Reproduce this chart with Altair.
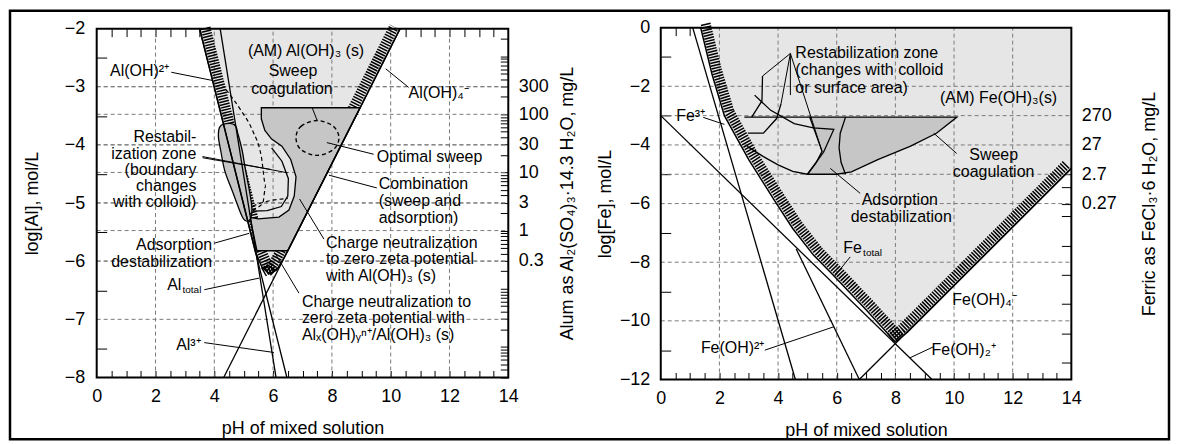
import altair as alt
import pandas as pd
import numpy as np

# ---------------- layout (styling only) ----------------
W, H = 1163, 430
PAD = 2
XL_RANGE = [87, 500]
YL_RANGE = [368, 18]
XR_RANGE = [653, 1065]
YR_RANGE = [370, 17]
FONT = "Liberation Sans"
ANN_FONT = "Liberation Sans Narrow, Liberation Sans"
LIGHT = "#e6e6e6"
MID = "#c6c6c6"
GRID = "#7a7a7a"

# ---------------- axis values ----------------
PH_LABELS = [0, 2, 4, 6, 8, 10, 12, 14]
PH_MINOR = [0.5, 1, 1.5, 2, 2.5, 3, 3.5, 4, 4.5, 5, 5.5, 6, 6.5, 7, 7.5, 8, 8.5, 9, 9.5,
            10, 10.5, 11, 11.5, 12, 12.5, 13, 13.5]
PH_GRID = [2, 4, 6, 8, 10, 12]
AL_LOG_LABELS = [-2, -3, -4, -5, -6, -7, -8]
AL_LOG_MINOR = [-2.5, -3.5, -4.5, -5.5, -6.5, -7.5]
ALUM_MG = [300, 100, 30, 10, 3, 1, 0.3]
ALUM_FACTOR = 297200.0        # mg/L alum per mol/L Al  (594.4 g/mol / 2 Al)
FE_LOG_LABELS = [0, -2, -4, -6, -8, -10, -12]
FE_LOG_MINOR = [-1, -3, -5, -7, -9, -11]
FERRIC_MG = [270, 27, 2.7, 0.27]
FERRIC_FACTOR = 270300.0      # mg/L FeCl3.6H2O per mol/L Fe

# ---------------- aluminium panel (pH, log[Al]) ----------------
AL_OH4 = [(4.32, -8.0), (10.32, -2.0)]
AL_3 = [(4.2, -2.0), (6.1, -8.0)]
AL_OH2 = [(3.5, -2.0), (6.47, -8.0)]
AL_TOTAL_L = [(3.5, -2.0), (4.5, -4.02), (5.4, -5.84), (5.62, -6.1), (5.87, -6.22)]
AL_TOTAL_R = [(5.87, -6.22), (6.12, -6.15), (6.32, -5.99), (6.5, -5.82), (10.32, -2.0)]
AL_RESTAB = [(4.2, -3.68), (4.5, -3.63), (4.72, -3.67), (4.8, -3.8), (4.95, -4.1),
             (5.05, -4.4), (5.2, -4.8), (5.28, -5.1), (5.22, -5.28), (5.05, -5.3),
             (4.92, -5.2), (4.62, -4.8), (4.36, -4.45), (4.22, -4.1), (4.14, -3.85)]
AL_COMB = [(5.6, -3.36), (8.96, -3.36), (6.5, -5.82), (5.45, -5.82), (5.22, -5.25),
           (5.5, -5.27), (6.2, -5.24), (6.54, -5.12), (6.72, -4.88), (6.78, -4.55),
           (6.6, -4.25), (6.3, -4.02), (5.95, -3.9), (5.72, -3.75), (5.6, -3.55)]
AL_C_INNER = [(5.95, -4.05), (6.3, -4.28), (6.52, -4.58), (6.5, -4.88), (6.28, -5.06),
              (5.8, -5.13), (5.3, -5.14)]
AL_DASH_ARC = [(4.4, -3.05), (4.9, -3.4), (5.3, -3.75), (5.6, -4.2), (5.75, -4.7),
               (5.65, -5.0), (5.4, -5.1), (5.2, -5.2)]
AL_DASH_LOW = [(5.3, -5.05), (5.8, -4.97), (6.5, -4.92)]
AL_ELLIPSE = [(6.78, -3.88), (6.95, -3.68), (7.5, -3.58), (8.05, -3.68), (8.24, -3.88),
              (8.05, -4.08), (7.5, -4.18), (6.95, -4.08)]
AL_LEADERS = [
    [(2.54, -2.75), (3.93, -2.89)],
    [(10.61, -3.01), (9.83, -2.69)],
    [(3.6, -4.2), (6.5, -4.48)],
    [(3.6, -4.22), (5.9, -4.42)],
    [(9.42, -4.16), (7.83, -3.96)],
    [(7.33, -3.36), (7.5, -3.58)],
    [(9.53, -4.74), (7.9, -4.52)],
    [(7.73, -5.62), (6.9, -4.93)],
    [(6.88, -6.55), (6.05, -5.85)],
    [(4.0, -5.69), (5.19, -5.52)],
    [(3.66, -6.49), (5.53, -6.29)],
    [(3.66, -7.4), (6.03, -7.57)],
]
AL_TEXT_CENTER = [(7.12, -2.38, "(AM) Al(OH)₃ (s)"), (6.68, -2.72, "Sweep"),
                  (6.64, -3.03, "coagulation"), (1.46, -2.72, "Al(OH)²⁺"),
                  (11.63, -3.1, "Al(OH)₄⁻"), (3.12, -7.44, "Al³⁺")]
AL_TEXT_RIGHT = [(3.39, -3.87, "Restabil-"), (3.39, -4.15, "ization zone"),
                 (3.39, -4.43, "(boundary"), (3.39, -4.71, "changes"),
                 (3.39, -4.99, "with colloid)"), (3.93, -5.72, "Adsorption"),
                 (3.93, -6.01, "destabilization"), (2.88, -6.41, "Al")]
AL_TEXT_LEFT = [(9.53, -4.2, "Optimal sweep"), (9.59, -4.68, "Combination"),
                (9.59, -4.97, "(sweep and"), (9.59, -5.25, "adsorption)"),
                (7.8, -5.69, "Charge neutralization"), (7.8, -5.97, "to zero zeta potential"),
                (7.8, -6.25, "with Al(OH)₃ (s)"), (6.98, -6.7, "Charge neutralization to"),
                (6.98, -6.98, "zero zeta potential with"),
                (6.98, -7.27, "Alₓ(OH)ᵧⁿ⁺/Al(OH)₃ (s)")]
AL_TEXT_SUB = [(2.92, -6.5, "total")]

# ---------------- iron panel (pH, log[Fe]) ----------------
FE_3 = [(1.09, 0.0), (4.59, -12.0)]
FE_OH2 = [(4.62, -7.55), (6.77, -12.0)]
FE_OH2P = [(0.0, -3.0), (9.25, -12.0)]
FE_OH4 = [(6.77, -12.0), (14.0, -4.8)]
FE_TOTAL_L = [(1.36, 0.0), (1.75, -1.6), (2.17, -3.0), (3.0, -4.5), (3.87, -5.88),
              (4.5, -6.85), (5.2, -7.75), (5.91, -8.47), (7.0, -9.62), (7.6, -10.28),
              (8.0, -10.72)]
FE_TOTAL_R = [(8.0, -10.72), (8.4, -10.4), (9.0, -9.8), (14.0, -4.8)]
FE_CORNER = [(14.0, 0.0)]
FE_SWEEP = [(5.08, -3.05), (10.1, -3.05), (9.4, -3.6), (8.5, -4.05), (7.4, -4.5),
            (6.5, -4.92), (6.0, -5.0), (5.0, -5.0), (5.3, -4.6), (5.5, -4.22)]
FE_BOWL = [(2.95, -4.05), (3.5, -4.4), (4.0, -4.68), (4.5, -4.9), (5.0, -5.0)]
FE_TOP = [(2.85, -3.05), (5.08, -3.05)]
FE_UPPER = [(3.2, -2.3), (3.75, -2.82), (4.55, -3.27), (5.2, -3.42), (5.9, -3.47),
            (5.55, -4.25), (5.0, -5.0)]
FE_DIVIDE = [(6.3, -3.05), (6.12, -3.6), (6.08, -4.1), (6.15, -4.6), (6.3, -5.0)]
FE_ZIG1 = [(3.1, -3.05), (3.45, -2.5), (3.47, -1.65)]
FE_ZIG2 = [(2.97, -3.6), (3.5, -3.6), (3.95, -3.1), (4.1, -2.6)]
FE_LEADERS = [
    [(1.45, -3.06), (2.17, -3.3)],
    [(3.55, -11.0), (5.91, -10.2)],
    [(9.31, -10.88), (8.5, -11.26)],
    [(6.46, -7.82), (5.91, -8.5)],
    [(10.09, -4.29), (9.31, -3.6)],
    [(6.8, -5.65), (5.78, -4.8)],
    [(4.42, -0.88), (3.47, -1.65)],
    [(4.42, -0.88), (4.1, -2.6)],
    [(4.42, -0.88), (5.5, -4.22)],
    [(4.42, -0.88), (4.42, -2.3)],
]
FE_TEXT_LEFT = [(4.59, -0.85, "Restabilization zone"), (4.59, -1.46, "(changes with colloid"),
                (4.59, -2.07, "or surface area)")]
FE_TEXT_CENTER = [(11.52, -2.41, "(AM) Fe(OH)₃(s)"), (11.35, -4.35, "Sweep"),
                  (11.35, -4.93, "coagulation"), (8.15, -5.88, "Adsorption"),
                  (8.2, -6.46, "destabilization"), (11.04, -9.29, "Fe(OH)₄⁻"),
                  (10.33, -10.99, "Fe(OH)₂⁺"), (2.45, -10.92, "Fe(OH)²⁺"), (1.02, -3.03, "Fe³⁺")]
FE_TEXT_RIGHT = [(6.86, -7.52, "Fe")]
FE_TEXT_SUB = [(6.9, -7.69, "total")]

# ---------------- scales ----------------
XL = alt.Scale(domain=[0, 14], range=XL_RANGE, nice=False, zero=False)
YL = alt.Scale(domain=[-8, -2], range=YL_RANGE, nice=False, zero=False)
XR = alt.Scale(domain=[0, 14], range=XR_RANGE, nice=False, zero=False)
YR = alt.Scale(domain=[-12, 0], range=YR_RANGE, nice=False, zero=False)
SC = {"L": (XL, YL), "R": (XR, YR)}


def shape_df(pts, k=0):
    return pd.DataFrame({"ph": [p[0] for p in pts], "lg": [p[1] for p in pts],
                         "i": list(range(len(pts))), "k": k})


def enc(panel):
    xs, ys = SC[panel]
    return dict(x=alt.X("ph:Q", scale=xs, axis=None), y=alt.Y("lg:Q", scale=ys, axis=None))


def poly(pts, panel, fill, stroke="black", sw=1.3, interp="linear-closed", sop=1.0):
    return alt.Chart(shape_df(pts)).mark_line(
        interpolate=interp, fill=fill, stroke=stroke, strokeWidth=sw, strokeOpacity=sop
    ).encode(order="i:Q", **enc(panel))


def lines(shapes, panel, **kw):
    df = pd.concat([shape_df(s, j) for j, s in enumerate(shapes)], ignore_index=True)
    style = dict(stroke="black", strokeWidth=1.2)
    style.update(kw)
    return alt.Chart(df).mark_line(**style).encode(order="i:Q", detail="k:N", **enc(panel))


def texts(items, panel, align, size=16, font=ANN_FONT):
    df = pd.DataFrame(items, columns=["ph", "lg", "t"])
    return alt.Chart(df).mark_text(align=align, baseline="middle", fontSize=size,
                                   font=font, color="black").encode(text="t:N", **enc(panel))


def vgrid(vals, panel, lo, hi):
    xs, ys = SC[panel]
    df = pd.DataFrame({"ph": vals, "a": lo, "b": hi})
    return alt.Chart(df).mark_rule(color=GRID, strokeDash=[4, 3], strokeWidth=1).encode(
        x=alt.X("ph:Q", scale=xs, axis=None), y=alt.Y("a:Q", scale=ys, axis=None), y2="b:Q")


def hgrid(vals, panel, lo, hi):
    xs, ys = SC[panel]
    df = pd.DataFrame({"lg": vals, "a": lo, "b": hi})
    return alt.Chart(df).mark_rule(color=GRID, strokeDash=[4, 3], strokeWidth=1).encode(
        y=alt.Y("lg:Q", scale=ys, axis=None), x=alt.X("a:Q", scale=xs, axis=None), x2="b:Q")


def frame(panel, x0, x1, y0, y1):
    xs, ys = SC[panel]
    df = pd.DataFrame({"a": [x0], "b": [x1], "c": [y0], "d": [y1]})
    return alt.Chart(df).mark_rect(fillOpacity=0, stroke="black", strokeWidth=2).encode(
        x=alt.X("a:Q", scale=xs, axis=None), x2="b:Q",
        y=alt.Y("c:Q", scale=ys, axis=None), y2="d:Q")


def carrier(panel, xaxis=None, yaxis=None, mid=-5.0):
    xs, ys = SC[panel]
    df = pd.DataFrame({"ph": [7.0], "lg": [mid]})
    return alt.Chart(df).mark_point(opacity=0).encode(
        x=alt.X("ph:Q", scale=xs, axis=xaxis),
        y=alt.Y("lg:Q", scale=ys, axis=yaxis))


def label_axis(orient, offset, values, title, pad, tpad, expr=None, angle=None):
    kw = dict(orient=orient, offset=offset, values=values, ticks=False, domain=False,
              grid=False, labelFont=FONT, labelFontSize=18, labelColor="black",
              labelPadding=pad, labelFlush=False, labelOverlap=False,
              title=title, titleFont=FONT, titleFontSize=18, titleFontWeight="normal",
              titleColor="black", titlePadding=tpad)
    if expr:
        kw["labelExpr"] = expr
    if angle is not None:
        kw["titleAngle"] = angle
    return alt.Axis(**kw)


def tick_axis(orient, offset, values, size):
    return alt.Axis(orient=orient, offset=offset, values=values, labels=False, domain=False,
                    grid=False, ticks=True, tickSize=size, tickColor="black", tickWidth=1,
                    title="")


def hatch(pts, panel, dx, dy, width=10):
    return alt.Chart(shape_df(pts)).mark_line(
        stroke="black", strokeWidth=width, strokeDash=[1.5, 1.3], xOffset=dx, yOffset=dy
    ).encode(order="i:Q", **enc(panel))


# ---------------- derived tick positions (unit conversions) ----------------
ALUM_POS = [float(np.log10(m / ALUM_FACTOR)) for m in ALUM_MG]
ALUM_MINOR_POS = [float(np.log10(k * 10.0 ** n / ALUM_FACTOR)) for n in range(-3, 4)
                  for k in range(1, 10)]
ALUM_MINOR_POS = [v for v in ALUM_MINOR_POS if -8 < v < -2]
FERRIC_POS = [float(np.log10(m / FERRIC_FACTOR)) for m in FERRIC_MG]
FERRIC_MINOR_POS = [float(np.log10(10.0 ** n / FERRIC_FACTOR)) for n in range(-7, 6)]
FERRIC_MINOR_POS = [v for v in FERRIC_MINOR_POS if -12 < v < 0] + FERRIC_POS

AL_HGRID = sorted(set([-3, -4, -5, -6, -7] + [round(v, 3) for v in ALUM_POS]))
FE_HGRID = sorted(set([-2, -4, -6, -8, -10] + [round(v, 3) for v in FERRIC_POS]))

# ---------------- left panel ----------------
left = alt.layer(
    poly(AL_TOTAL_L + AL_TOTAL_R[1:], "L", LIGHT, stroke=LIGHT, sw=0.1, sop=0),
    vgrid(PH_GRID, "L", -8, -2),
    hgrid(AL_HGRID, "L", 0, 14),
    hatch(AL_TOTAL_L, "L", 6, -1),
    hatch(AL_TOTAL_R, "L", -6, -2),
    poly(AL_COMB, "L", MID),
    poly(AL_RESTAB, "L", MID, interp="cardinal-closed"),
    lines([AL_OH4, AL_3, AL_OH2, AL_C_INNER], "L", strokeWidth=1.3),
    lines([AL_TOTAL_L, AL_TOTAL_R], "L", strokeWidth=1.5),
    lines([AL_DASH_ARC, AL_DASH_LOW], "L", strokeDash=[4, 3], interpolate="monotone"),
    alt.Chart(shape_df(AL_ELLIPSE)).mark_line(
        interpolate="cardinal-closed", stroke="black", strokeWidth=1.4, strokeDash=[4, 3]
    ).encode(order="i:Q", **enc("L")),
    lines(AL_LEADERS, "L", strokeWidth=1),
    frame("L", 0, 14, -8, -2),
    texts(AL_TEXT_CENTER, "L", "center"),
    texts(AL_TEXT_RIGHT, "L", "right"),
    texts(AL_TEXT_LEFT, "L", "left"),
    texts(AL_TEXT_SUB, "L", "left", size=10),
    carrier("L",
            label_axis("bottom", YL_RANGE[0] - H, PH_LABELS, "pH of mixed solution", 10, 14),
            label_axis("left", -XL_RANGE[0], AL_LOG_LABELS, "log[Al], mol/L", 12, 23)),
    carrier("L", tick_axis("top", -YL_RANGE[0], PH_MINOR, 7),
            tick_axis("right", XL_RANGE[0] - W, AL_LOG_MINOR, 10)),
    carrier("L", tick_axis("bottom", YL_RANGE[1] - H, PH_MINOR, 8),
            label_axis("right", XL_RANGE[1] - W, ALUM_POS,
                       "Alum as Al₂(SO₄)₃·14.3 H₂O, mg/L", 10, 28,
                       expr="format(pow(10, datum.value) * 297200, '.2~r')", angle=270)),
    carrier("L", None, tick_axis("left", -XL_RANGE[1], ALUM_MINOR_POS, 8)),
).resolve_axis(x="independent", y="independent")

# ---------------- right panel ----------------
right = alt.layer(
    poly(FE_TOTAL_L + FE_TOTAL_R[1:] + FE_CORNER, "R", LIGHT, stroke=LIGHT, sw=0.1, sop=0),
    vgrid(PH_GRID, "R", -12, 0),
    hgrid(FE_HGRID, "R", 0, 14),
    hatch(FE_TOTAL_L, "R", 5, -4),
    hatch(FE_TOTAL_R, "R", -5, -4),
    poly(FE_SWEEP, "R", MID),
    lines([FE_3, FE_OH2, FE_OH2P, FE_OH4], "R", strokeWidth=1.3),
    lines([FE_TOTAL_L, FE_TOTAL_R], "R", strokeWidth=1.5),
    lines([FE_BOWL, FE_TOP, FE_UPPER, FE_DIVIDE, FE_ZIG1, FE_ZIG2], "R", strokeWidth=1.3),
    lines(FE_LEADERS, "R", strokeWidth=1),
    frame("R", 0, 14, -12, 0),
    texts(FE_TEXT_LEFT, "R", "left"),
    texts(FE_TEXT_CENTER, "R", "center"),
    texts(FE_TEXT_RIGHT, "R", "right"),
    texts(FE_TEXT_SUB, "R", "left", size=10),
    carrier("R",
            label_axis("bottom", YR_RANGE[0] - H, PH_LABELS, "pH of mixed solution", 10, 14),
            label_axis("left", -XR_RANGE[0], FE_LOG_LABELS, "log[Fe], mol/L", 11, 5), mid=-6),
    carrier("R", tick_axis("top", -YR_RANGE[0], PH_MINOR, 7),
            tick_axis("right", XR_RANGE[0] - W, FE_LOG_MINOR, 10), mid=-6),
    carrier("R", tick_axis("bottom", YR_RANGE[1] - H, PH_MINOR, 8),
            label_axis("right", XR_RANGE[1] - W, FERRIC_POS,
                       "Ferric as FeCl₃·6 H₂O, mg/L", 10, 42,
                       expr="format(pow(10, datum.value) * 270300, '.2~r')", angle=270), mid=-6),
    carrier("R", None, tick_axis("left", -XR_RANGE[1], FERRIC_MINOR_POS, 10), mid=-6),
).resolve_axis(x="independent", y="independent")

chart = alt.layer(left, right).resolve_scale(
    x="independent", y="independent"
).resolve_axis(
    x="independent", y="independent"
).properties(
    width=W, height=H, padding=PAD, autosize=alt.AutoSizeParams(type="none")
).configure(background="white").configure_view(stroke="black", strokeWidth=2.5)

chart.save("out.html", embed_options={"renderer": "svg", "actions": False})
